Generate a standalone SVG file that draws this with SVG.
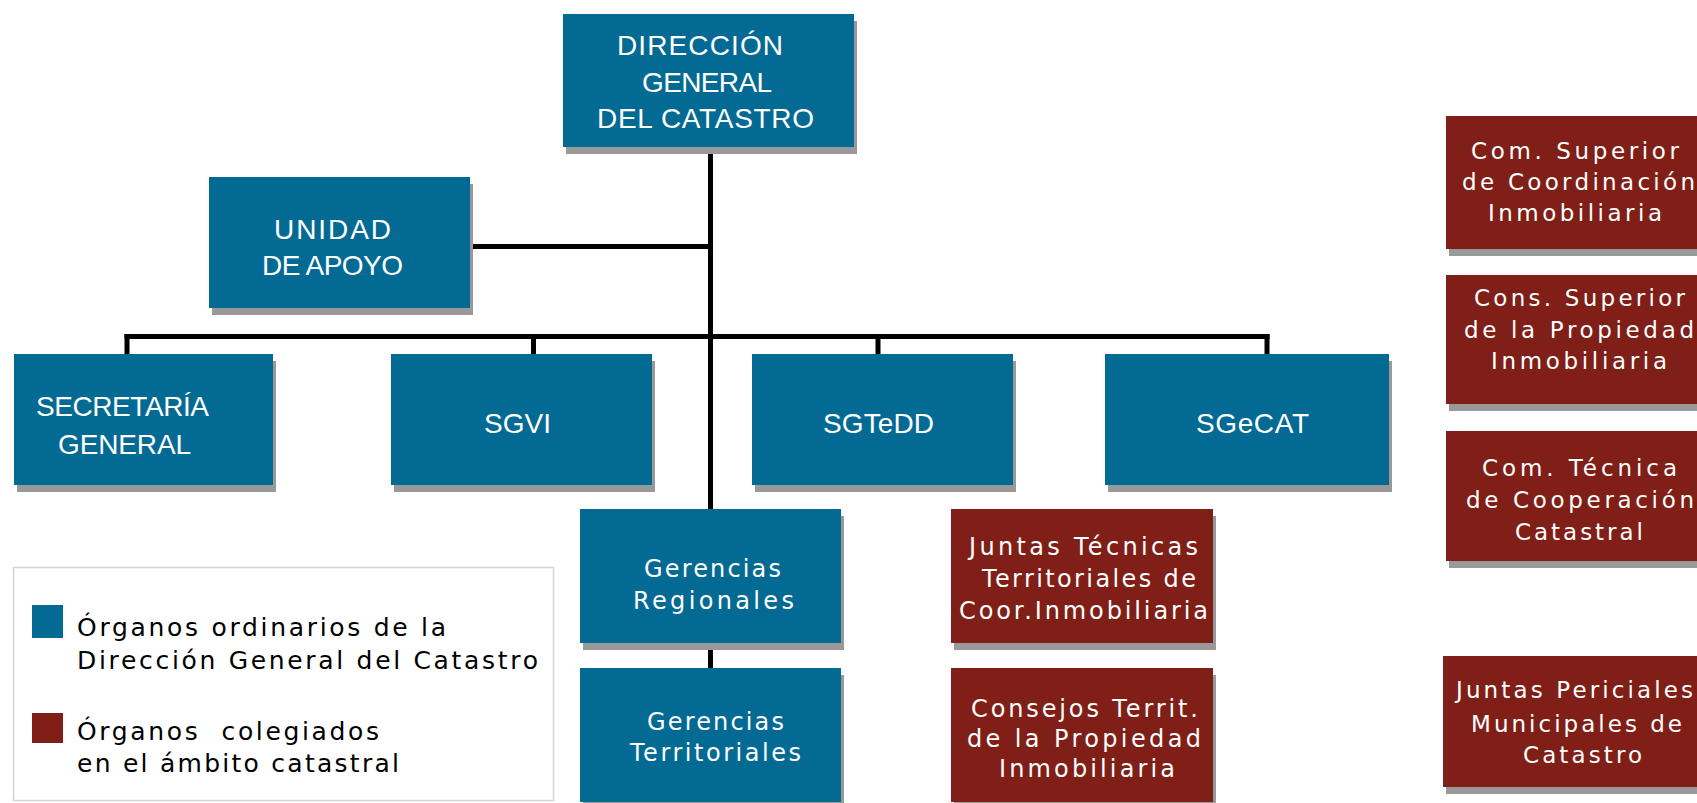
<svg xmlns="http://www.w3.org/2000/svg" width="1697" height="803" viewBox="0 0 1697 803">
<style>
.bg{fill:#ffffff}
.sh{fill:#999999}
.blue{fill:#036a94}
.red{fill:#801f17}
.cap{font-family:"Liberation Sans",Arial,sans-serif;font-size:28px;fill:#ffffff}
.low{font-family:"DejaVu Sans",Verdana,sans-serif;font-size:24px;fill:#ffffff}
.sm{font-family:"DejaVu Sans",Verdana,sans-serif;font-size:23px;fill:#ffffff}
.leg{font-family:"DejaVu Sans",Verdana,sans-serif;font-size:25px;fill:#000000}
.ln{stroke:#000000;stroke-width:5;fill:none}
</style>
<rect class="bg" x="0" y="0" width="1697" height="803"/>
<g id="connectors">
  <path class="ln" d="M710.5 147 V509"/>
  <path class="ln" d="M470 246.5 H710"/>
  <path class="ln" d="M124.5 336.5 H1269.5"/>
  <path class="ln" d="M127 334 V354 M533.5 334 V354 M878 334 V354 M1267 334 V354"/>
  <path class="ln" d="M710.5 643 V668"/>
</g>
<g id="dg">
  <rect class="sh" x="566" y="21" width="291" height="133"/>
  <rect class="blue" x="563" y="14" width="291" height="133"/>
  <text class="cap" x="617" y="55" textLength="166" lengthAdjust="spacing">DIRECCIÓN</text>
  <text class="cap" x="642" y="92" textLength="130" lengthAdjust="spacing">GENERAL</text>
  <text class="cap" x="597" y="128" textLength="217" lengthAdjust="spacing">DEL CATASTRO</text>
</g>
<g id="unidad">
  <rect class="sh" x="212" y="184" width="261" height="131"/>
  <rect class="blue" x="209" y="177" width="261" height="131"/>
  <text class="cap" x="274" y="239" textLength="117" lengthAdjust="spacing">UNIDAD</text>
  <text class="cap" x="262" y="275" textLength="141" lengthAdjust="spacing">DE APOYO</text>
</g>
<g id="secretaria">
  <rect class="sh" x="17" y="361" width="259" height="131"/>
  <rect class="blue" x="14" y="354" width="259" height="131"/>
  <text class="cap" x="36" y="416" textLength="173" lengthAdjust="spacing">SECRETARÍA</text>
  <text class="cap" x="58" y="454" textLength="133" lengthAdjust="spacing">GENERAL</text>
</g>
<g id="sgvi">
  <rect class="sh" x="394" y="361" width="261" height="131"/>
  <rect class="blue" x="391" y="354" width="261" height="131"/>
  <text class="cap" x="484" y="433" textLength="67" lengthAdjust="spacing">SGVI</text>
</g>
<g id="sgtedd">
  <rect class="sh" x="755" y="361" width="261" height="131"/>
  <rect class="blue" x="752" y="354" width="261" height="131"/>
  <text class="cap" x="823" y="433" textLength="111" lengthAdjust="spacing">SGTeDD</text>
</g>
<g id="sgecat">
  <rect class="sh" x="1108" y="361" width="284" height="131"/>
  <rect class="blue" x="1105" y="354" width="284" height="131"/>
  <text class="cap" x="1196" y="433" textLength="113" lengthAdjust="spacing">SGeCAT</text>
</g>
<g id="gerencias-regionales">
  <rect class="sh" x="583" y="516" width="261" height="134"/>
  <rect class="blue" x="580" y="509" width="261" height="134"/>
  <text class="low" x="644" y="577" textLength="137" lengthAdjust="spacing">Gerencias</text>
  <text class="low" x="633" y="609" textLength="161" lengthAdjust="spacing">Regionales</text>
</g>
<g id="gerencias-territoriales">
  <rect class="sh" x="583" y="675" width="261" height="134"/>
  <rect class="blue" x="580" y="668" width="261" height="134"/>
  <text class="low" x="647" y="730" textLength="137" lengthAdjust="spacing">Gerencias</text>
  <text class="low" x="630" y="761" textLength="171" lengthAdjust="spacing">Territoriales</text>
</g>
<g id="juntas-tecnicas">
  <rect class="sh" x="954" y="516" width="262" height="134"/>
  <rect class="red" x="951" y="509" width="262" height="134"/>
  <text class="low" x="969" y="555" textLength="229" lengthAdjust="spacing">Juntas Técnicas</text>
  <text class="low" x="982" y="587" textLength="214" lengthAdjust="spacing">Territoriales de</text>
  <text class="low" x="959" y="619" textLength="249" lengthAdjust="spacing">Coor.Inmobiliaria</text>
</g>
<g id="consejos-territ">
  <rect class="sh" x="954" y="675" width="262" height="134"/>
  <rect class="red" x="951" y="668" width="262" height="134"/>
  <text class="low" x="971" y="717" textLength="227" lengthAdjust="spacing">Consejos Territ.</text>
  <text class="low" x="967" y="747" textLength="234" lengthAdjust="spacing">de la Propiedad</text>
  <text class="low" x="999" y="777" textLength="176" lengthAdjust="spacing">Inmobiliaria</text>
</g>
<g id="com-superior">
  <rect class="sh" x="1449" y="123" width="260" height="133"/>
  <rect class="red" x="1446" y="116" width="260" height="133"/>
  <text class="sm" x="1471" y="159" textLength="208" lengthAdjust="spacing">Com. Superior</text>
  <text class="sm" x="1462" y="190" textLength="233" lengthAdjust="spacing">de Coordinación</text>
  <text class="sm" x="1488" y="221" textLength="174" lengthAdjust="spacing">Inmobiliaria</text>
</g>
<g id="cons-superior">
  <rect class="sh" x="1449" y="282" width="260" height="129"/>
  <rect class="red" x="1446" y="275" width="260" height="129"/>
  <text class="sm" x="1474" y="306" textLength="211" lengthAdjust="spacing">Cons. Superior</text>
  <text class="sm" x="1464" y="338" textLength="230" lengthAdjust="spacing">de la Propiedad</text>
  <text class="sm" x="1491" y="369" textLength="176" lengthAdjust="spacing">Inmobiliaria</text>
</g>
<g id="com-tecnica">
  <rect class="sh" x="1449" y="438" width="260" height="130"/>
  <rect class="red" x="1446" y="431" width="260" height="130"/>
  <text class="sm" x="1482" y="476" textLength="195" lengthAdjust="spacing">Com. Técnica</text>
  <text class="sm" x="1466" y="508" textLength="228" lengthAdjust="spacing">de Cooperación</text>
  <text class="sm" x="1515" y="540" textLength="128" lengthAdjust="spacing">Catastral</text>
</g>
<g id="juntas-periciales">
  <rect class="sh" x="1446" y="663" width="260" height="131"/>
  <rect class="red" x="1443" y="656" width="260" height="131"/>
  <text class="sm" x="1456" y="698" textLength="237" lengthAdjust="spacing">Juntas Periciales</text>
  <text class="sm" x="1471" y="732" textLength="211" lengthAdjust="spacing">Municipales de</text>
  <text class="sm" x="1523" y="763" textLength="119" lengthAdjust="spacing">Catastro</text>
</g>
<g id="legend">
  <rect x="13.5" y="567.5" width="540" height="233" fill="#ffffff" stroke="#d4d4d4" stroke-width="1.5"/>
  <rect class="blue" x="32" y="605" width="31" height="33"/>
  <rect class="red" x="32" y="713" width="31" height="30"/>
  <text class="leg" x="77" y="636" textLength="369" lengthAdjust="spacing">Órganos ordinarios de la</text>
  <text class="leg" x="77" y="669" textLength="461" lengthAdjust="spacing">Dirección General del Catastro</text>
  <text class="leg" x="77" y="740" textLength="302" lengthAdjust="spacing" xml:space="preserve">Órganos  colegiados</text>
  <text class="leg" x="77" y="772" textLength="322" lengthAdjust="spacing">en el ámbito catastral</text>
</g>
</svg>
